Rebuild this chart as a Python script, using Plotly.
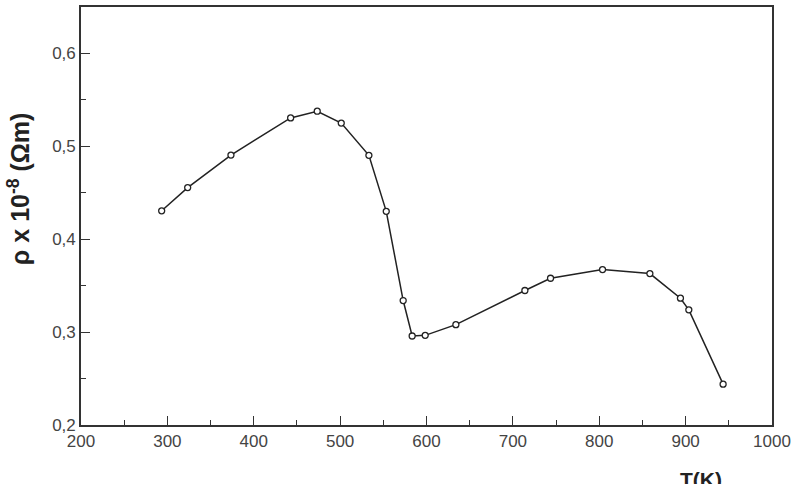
import plotly.graph_objects as go

temperature_K = [293.4, 323.5, 373.6, 442.7, 473.5, 501.3, 533.3, 553.4, 573.0, 583.4,
                 598.5, 634.0, 713.9, 743.6, 803.8, 858.6, 894.0, 903.7, 943.4]
resistivity = [0.4306, 0.4556, 0.4906, 0.5306, 0.5378, 0.525, 0.4903, 0.430, 0.334, 0.2958,
               0.2965, 0.308, 0.3448, 0.358, 0.3673, 0.363, 0.3365, 0.324, 0.244]
x_ticks = [200, 300, 400, 500, 600, 700, 800, 900, 1000]
y_ticks = [0.2, 0.3, 0.4, 0.5, 0.6]

fig = go.Figure()
fig.add_trace(go.Scatter(
    x=temperature_K, y=resistivity, mode="lines+markers",
    line=dict(color="#222222", width=1.5),
    marker=dict(symbol="circle", size=6, color="white", line=dict(color="#222222", width=1.3)),
    showlegend=False,
))

axis_common = dict(
    showline=True, linecolor="#333333", linewidth=1.6, mirror=True,
    showgrid=False, zeroline=False,
    ticks="inside", ticklen=9, tickwidth=1.3, tickcolor="#333333",
    tickfont=dict(family="Liberation Sans, Arial, sans-serif", size=17, color="#444444"),
)

fig.update_xaxes(range=[200, 1000], tickvals=x_ticks,
                 minor=dict(dtick=50, ticks="inside", ticklen=5, tickwidth=1.3, tickcolor="#333333"),
                 **axis_common)
fig.update_yaxes(range=[0.2, 0.65], tickvals=y_ticks, tickformat=".1f",
                 minor=dict(dtick=0.05, ticks="inside", ticklen=5, tickwidth=1.3, tickcolor="#333333"),
                 **axis_common)

fig.add_annotation(
    text="<b>ρ x 10<sup>-8</sup> (Ωm)</b>", textangle=-90,
    xref="paper", yref="paper", x=(19 - 81) / 691, y=(425 - 188) / 420,
    xanchor="center", yanchor="middle", showarrow=False,
    font=dict(family="Liberation Sans, Arial, sans-serif", size=25, color="#222222"),
)
fig.add_annotation(
    text="<b>T(K)</b>",
    xref="paper", yref="paper", x=(701 - 81) / 691, y=(425 - 466) / 420,
    xanchor="center", yanchor="top", showarrow=False,
    font=dict(family="Liberation Sans, Arial, sans-serif", size=21, color="#222222"),
)

fig.update_layout(
    width=797, height=484,
    margin=dict(l=81, r=25, t=5, b=59),
    paper_bgcolor="white", plot_bgcolor="white",
    separators=", ",
)

fig.write_html("out.html")
